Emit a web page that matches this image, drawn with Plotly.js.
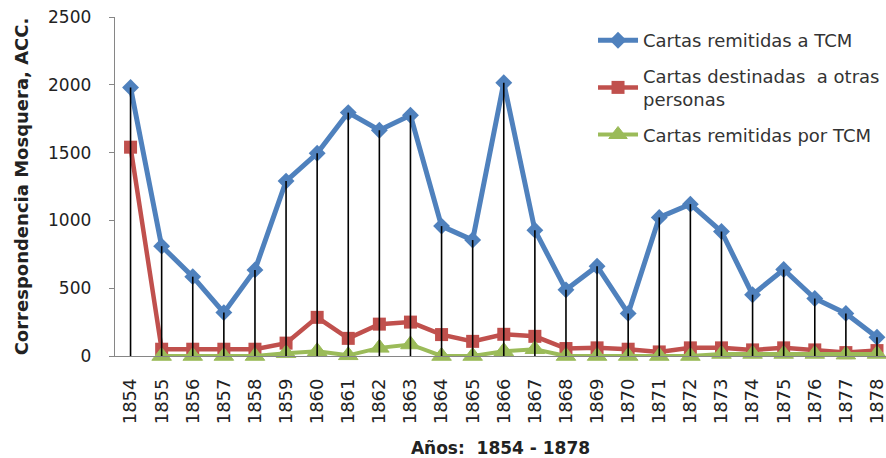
<!DOCTYPE html>
<html>
<head>
<meta charset="utf-8">
<script src="https://cdn.plot.ly/plotly-3.0.1.min.js"></script>
<style>html,body{margin:0;padding:0;background:#fff;}#chart{width:886px;height:458px;}</style>
</head>
<body>
<div id="chart"></div>
<script>
const years = ['1854','1855','1856','1857','1858','1859','1860','1861','1862','1863','1864','1865','1866','1867','1868','1869','1870','1871','1872','1873','1874','1875','1876','1877','1878'];
const remitidasA = [1980, 810, 585, 320, 635, 1290, 1495, 1795, 1665, 1775, 958, 855, 2015, 928, 488, 662, 314, 1022, 1120, 918, 452, 638, 424, 314, 138];
const destinadas = [1540, 50, 50, 50, 50, 95, 285, 130, 235, 250, 158, 108, 160, 145, 55, 60, 50, 30, 60, 60, 45, 60, 45, 25, 40];
const remitidasPor = [null, 0, 0, 0, 0, 20, 35, 5, 60, 85, 0, 0, 35, 50, 0, 0, 0, 0, 0, 15, 15, 15, 15, 10, 15];
const yTicks = [0, 500, 1000, 1500, 2000, 2500];

const FONT = 'DejaVu Sans, sans-serif';

const traces = [
  {
    x: years, y: remitidasA, type: 'scatter', mode: 'lines+markers',
    name: 'Cartas remitidas a TCM', legendgroup: 'a', cliponaxis: false,
    line: {color: '#4F81BD', width: 5},
    marker: {symbol: 'diamond', size: 13, color: '#4F81BD'}
  },
  {
    x: years, y: destinadas, type: 'scatter', mode: 'lines+markers',
    name: 'Cartas destinadas  a otras<br>personas', legendgroup: 'b', cliponaxis: false,
    line: {color: '#C0504D', width: 4.5},
    marker: {symbol: 'square', size: 13, color: '#C0504D'}
  },
  {
    x: years, y: remitidasPor, type: 'scatter', mode: 'lines+markers',
    name: 'Cartas remitidas por TCM', legendgroup: 'c', cliponaxis: false,
    line: {color: '#9BBB59', width: 4},
    marker: {symbol: 'triangle-up', size: 17, color: '#9BBB59', line: {color: '#9BBB59', width: 1}}
  },
  {
    x: years, y: remitidasA, type: 'scatter', mode: 'markers',
    showlegend: false, hoverinfo: 'skip', cliponaxis: false,
    marker: {size: 1, opacity: 0},
    error_y: {type: 'data', symmetric: false,
      array: remitidasA.map(() => 0), arrayminus: remitidasA.slice(),
      color: '#000000', thickness: 1.6, width: 0}
  }
];

const layout = {
  width: 886, height: 458,
  margin: {l: 115, r: 0, t: 17, b: 102},
  paper_bgcolor: '#ffffff', plot_bgcolor: '#ffffff',
  font: {family: FONT, color: '#222222'},
  showlegend: true,
  legend: {
    x: 0.62, y: 0.985, xanchor: 'left', yanchor: 'top',
    font: {family: FONT, size: 18, color: '#333333'},
    bgcolor: 'rgba(0,0,0,0)', tracegroupgap: 9, itemwidth: 40
  },
  xaxis: {
    type: 'category', range: [-0.5, 24.29],
    showline: true, linecolor: '#868686', linewidth: 1.3,
    ticks: '', showgrid: false, zeroline: false,
    tickangle: -90, tickfont: {family: FONT, size: 18, color: '#222222'},
    ticklabelstandoff: 14,
    title: {text: '<b>Años:  1854 - 1878</b>', font: {family: FONT, size: 17, color: '#222222'}, standoff: 18}
  },
  yaxis: {
    range: [0, 2500], tickvals: yTicks,
    showline: true, linecolor: '#868686', linewidth: 1.3,
    ticks: 'outside', ticklen: 5, tickcolor: '#868686',
    showgrid: false, zeroline: false,
    tickfont: {family: FONT, size: 17, color: '#222222'},
    ticklabelstandoff: 14,
    title: {text: '<b>Correspondencia Mosquera, ACC.</b>', font: {family: FONT, size: 18, color: '#222222'}, standoff: 14}
  }
};

Plotly.newPlot('chart', traces, layout, {displayModeBar: false, staticPlot: true});
</script>
</body>
</html>
